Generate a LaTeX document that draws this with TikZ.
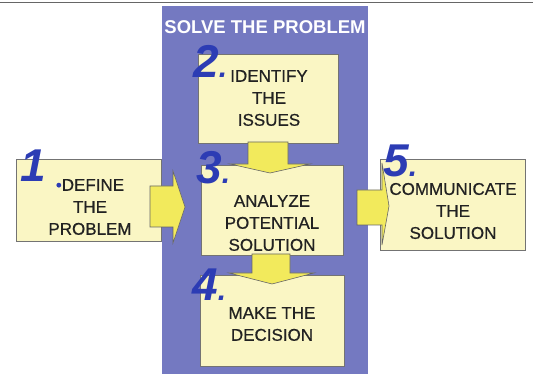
\documentclass[tikz,border=0pt]{standalone}
\usepackage{fontspec}
\setmainfont{Liberation Sans}
\newfontfamily\heavyfont[FakeBold=0.6]{Liberation Sans}
\usepackage{xcolor}
\definecolor{pn}{HTML}{7479C1}
\definecolor{bx}{HTML}{FAF6C4}
\definecolor{ar}{HTML}{F2EA5C}
\definecolor{nb}{HTML}{2C3CB4}
\definecolor{tx}{HTML}{222222}
\newcommand\numdot{{\fontsize{30}{30}\selectfont.}}

\begin{document}
\begin{tikzpicture}[x=1pt,y=-1pt,
  stepbox/.style={draw=black!55,fill=bx,line width=0.7pt,inner sep=0pt},
  steptext/.style={align=center,text=tx,inner sep=0pt,font=\heavyfont\fontsize{17}{22}\selectfont},
  stepnum/.style={anchor=base west,inner sep=0pt,text=nb,font=\fontsize{46}{46}\selectfont\bfseries\itshape},
  blockarrow/.style={fill=ar,draw=black!60,line width=0.6pt,line join=miter}]
  \useasboundingbox (0,0) rectangle (533,374);
  \draw[black!60,line width=1.6pt] (0,2.5) -- (533,2.5);

  % the middle panel
  \node[fill=pn,minimum width=206pt,minimum height=368pt,inner sep=0pt] (panel) at (265,190) {};
  \node[text=white,font=\fontsize{18.5}{20}\selectfont\bfseries] (title) at (265,27) {SOLVE THE PROBLEM};

  % boxes
  \node[stepbox,minimum width=145pt,minimum height=82pt] (define) at (88.5,200) {};
  \node[stepbox,minimum width=140pt,minimum height=89pt] (identify) at (268,98.5) {};
  \node[stepbox,minimum width=142pt,minimum height=90pt] (analyze) at (272,210) {};
  \node[stepbox,minimum width=144pt,minimum height=91pt] (decide) at (272,320.5) {};
  \node[stepbox,minimum width=145pt,minimum height=91pt] (tell) at (452.5,204.5) {};

  \node[steptext] (definetext) at (90,207) {\textcolor{nb}{•}DEFINE\\THE\\PROBLEM};
  \node[steptext] (identifytext) at (269,98) {IDENTIFY\\THE\\ISSUES};
  \node[steptext] (analyzetext) at (272,223) {ANALYZE\\POTENTIAL\\SOLUTION};
  \node[steptext] (decidetext) at (272,324) {MAKE THE\\DECISION};
  \node[steptext] (telltext) at (453,211) {COMMUNICATE\\THE\\SOLUTION};

  % block arrows
  \draw[blockarrow] (150,186) -- (173,186) -- (173,171) -- (185,207) -- (173,243) -- (173,227) -- (150,227) -- cycle;
  \draw[blockarrow] (357,190) -- (382,190) -- (382,163) -- (389,206) -- (382,245) -- (382,225) -- (357,225) -- cycle;
  \draw[blockarrow] (248,142) -- (288,142) -- (288,164) -- (310,164) -- (270,173) -- (230,164) -- (248,164) -- cycle;
  \draw[blockarrow] (252,254) -- (290,254) -- (290,273) -- (314,273) -- (272,284) -- (229,273) -- (252,273) -- cycle;

  % step numbers
  \node[stepnum] (n1) at (20,182) {1};
  \node[stepnum] (n2) at (193,78) {2\numdot};
  \node[stepnum] (n3) at (196,184) {3\numdot};
  \node[stepnum] (n4) at (192,301) {4\numdot};
  \node[stepnum] (n5) at (383,177) {5\numdot};
\end{tikzpicture}
\end{document}
